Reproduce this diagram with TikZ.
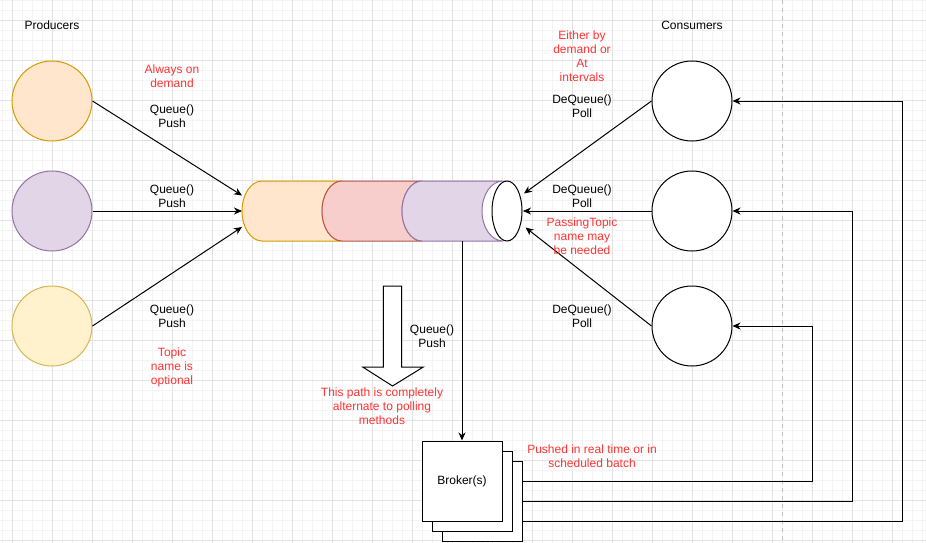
\documentclass[tikz,border=0pt]{standalone}
\usepackage{fontspec}
\setmainfont{Liberation Sans}
\usetikzlibrary{arrows.meta,calc}
\definecolor{redtxt}{HTML}{FF3333}
\definecolor{orfill}{HTML}{FFE6CC}\definecolor{ordraw}{HTML}{D79B00}
\definecolor{pufill}{HTML}{E1D5E7}\definecolor{pudraw}{HTML}{9673A6}
\definecolor{yefill}{HTML}{FFF2CC}\definecolor{yedraw}{HTML}{D6B656}
\definecolor{rdfill}{HTML}{F8CECC}\definecolor{rddraw}{HTML}{B85450}
\definecolor{gridmaj}{RGB}{226,226,226}
\definecolor{gridmin}{RGB}{244,244,244}
\definecolor{pagebrk}{RGB}{190,190,190}
\begin{document}
\begin{tikzpicture}[x=1pt,y=-1pt,
  txt/.style={font=\fontsize{12}{14}\selectfont, align=center, inner sep=0pt},
  rtxt/.style={txt, text=redtxt},
  ball/.style={circle, minimum size=80pt, inner sep=0pt, line width=1pt, draw},
  arr/.style={draw, line width=1pt, -{Stealth[length=8pt,width=7pt,inset=2.5pt]}},
  box/.style={draw, line width=1pt, fill=white, minimum size=80pt, inner sep=0pt},
  seg/.style={line width=1pt}]
\useasboundingbox (0,0) rectangle (926,543);
\fill[white] (0,0) rectangle (926,543);
% grid
\foreach \i in {0,...,92} \draw[gridmin, line width=0.6pt] (2.3+10*\i,0) -- (2.3+10*\i,543);
\foreach \i in {0,...,54} \draw[gridmin, line width=0.6pt] (0,0.7+10*\i) -- (926,0.7+10*\i);
\foreach \i in {0,...,23} \draw[gridmaj, line width=0.8pt] (12.3+40*\i,0) -- (12.3+40*\i,543);
\foreach \i in {0,...,13} \draw[gridmaj, line width=0.8pt] (0,20.7+40*\i) -- (926,20.7+40*\i);
\draw[pagebrk, line width=0.8pt, dash pattern=on 4pt off 4pt] (782.3,0) -- (782.3,543);

% producers & consumers
\node[ball, fill=orfill, draw=ordraw] (p1) at (52,101) {};
\node[ball, fill=pufill, draw=pudraw] (p2) at (52,211) {};
\node[ball, fill=yefill, draw=yedraw] (p3) at (52,326) {};
\node[ball, fill=white] (c1) at (692,101) {};
\node[ball, fill=white] (c2) at (692,211) {};
\node[ball, fill=white] (c3) at (692,326) {};

% queue cylinder
\fill[white] (503,181) -- (507,181) arc[start angle=270,end angle=90,x radius=15,y radius=30]
  -- (503,241) arc[start angle=90,end angle=270,x radius=21,y radius=30] -- cycle;
\draw[seg, fill=orfill, draw=ordraw] (262,181) -- (342,181) arc[start angle=270,end angle=90,x radius=20,y radius=30]
  -- (262,241) arc[start angle=90,end angle=270,x radius=20,y radius=30] -- cycle;
\draw[seg, fill=rdfill, draw=rddraw] (342,181) -- (422,181) arc[start angle=270,end angle=90,x radius=20,y radius=30]
  -- (342,241) arc[start angle=90,end angle=270,x radius=20,y radius=30] -- cycle;
\draw[seg, fill=pufill, draw=pudraw] (422,181) -- (503,181) arc[start angle=270,end angle=90,x radius=21,y radius=30]
  -- (422,241) arc[start angle=90,end angle=270,x radius=20,y radius=30] -- cycle;
\draw[seg, fill=white] (507,211) ellipse[x radius=15, y radius=30];

\coordinate (qin1) at (242,195.5);
\coordinate (qin2) at (242,211);
\coordinate (qin3) at (242,227);
\coordinate (qo1) at (524,193.5);
\coordinate (qo2) at (523,211);
\coordinate (qo3) at (525.5,227.5);
\coordinate (qout) at (462,241);

% brokers
\node[box] (b3) at (482,501) {};
\node[box] (b2) at (472,491) {};
\node[box, txt] (b1) at (462,481) {Broker(s)};

% hollow arrow
\draw[line width=1pt, fill=white, line join=miter] (383.3,286) -- (401.7,286) -- (401.7,367) -- (423.3,367)
  -- (392.5,386) -- (362.7,367) -- (383.3,367) -- cycle;

% connectors
\draw[arr] (p1.east) -- (qin1);
\draw[arr] (p2.east) -- (qin2);
\draw[arr] (p3.east) -- (qin3);
\draw[arr] (c1.west) -- (qo1);
\draw[arr] (c2.west) -- (qo2);
\draw[arr] (c3.west) -- (qo3);
\draw[arr] (qout) -- (b1.north);
\draw[arr] ([yshift=20pt]b3.east) -| ([xshift=80pt]c3.east) -- (c3.east);
\draw[arr] (b3.east) -| ([xshift=120pt]c2.east) -- (c2.east);
\draw[arr] ([yshift=-20pt]b3.east) -| ([xshift=170pt]c1.east) -- (c1.east);

% labels
\node[txt] (lprod) at (52,25) {Producers};
\node[txt] (lcons) at (692,25) {Consumers};
\node[rtxt] (lalw) at (172,76) {Always on\\demand};
\node[txt] (lq1) at (172,116) {Queue()\\Push};
\node[txt] (lq2) at (172,196) {Queue()\\Push};
\node[txt] (lq3) at (172,316) {Queue()\\Push};
\node[rtxt] (ltopic) at (172,367) {Topic\\name is\\optional};
\node[rtxt] (leither) at (582,56.5) {Either by\\demand or\\At\\intervals};
\node[txt] (ldq1) at (582,106) {DeQueue()\\Poll};
\node[txt] (ldq2) at (582,196) {DeQueue()\\Poll};
\node[rtxt] (lpass) at (582,236) {PassingTopic\\name may\\be needed};
\node[txt] (ldq3) at (582,316) {DeQueue()\\Poll};
\node[txt] (lq4) at (432,336) {Queue()\\Push};
\node[rtxt] (lalt) at (382,406) {This path is completely\\alternate to polling\\methods};
\node[rtxt] (lpush) at (592,456) {Pushed in real time or in\\scheduled batch};
\end{tikzpicture}
\end{document}
